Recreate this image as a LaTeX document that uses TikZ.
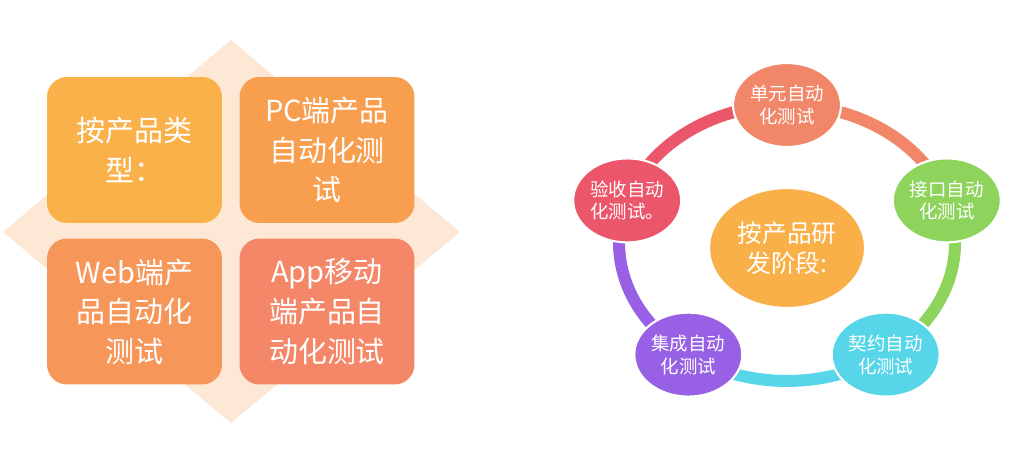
\documentclass[tikz,border=0pt]{standalone}
\usepackage{fontspec}
\setmainfont{Noto Sans CJK SC}
\usetikzlibrary{shapes.geometric,backgrounds}
\definecolor{fond}{RGB}{253,231,213}
\definecolor{caseA}{RGB}{250,177,74}
\definecolor{caseB}{RGB}{248,159,79}
\definecolor{caseC}{RGB}{247,150,89}
\definecolor{caseD}{RGB}{244,135,103}
\definecolor{rouge}{RGB}{236,86,106}
\definecolor{saumon}{RGB}{241,134,104}
\definecolor{vert}{RGB}{142,212,92}
\definecolor{cyan}{RGB}{86,214,232}
\definecolor{violet}{RGB}{152,96,228}
\definecolor{centre}{RGB}{250,176,72}
\begin{document}
\begin{tikzpicture}[x=0.02cm,y=0.02cm]
		% définition des styles
		\tikzstyle{case}=[rectangle,rounded corners=0.4cm,minimum width=3.5cm,minimum height=2.92cm,text=white,align=center,font=\fontsize{16.5}{22.5}\selectfont]
		\tikzstyle{etape}=[ellipse,draw=white,line width=1.2pt,minimum width=2.16cm,minimum height=1.68cm,inner sep=0pt,text=white,align=center,font=\fontsize{10.5}{13}\selectfont]
		\tikzstyle{anneau}=[line width=0.24cm]
		\useasboundingbox (0,0) rectangle (1020,451);
		% le losange de fond
		\fill[fond] (231,411) -- (460,219) -- (231,28) -- (3,219) -- cycle;
		% les quatre cases
		\node[case,fill=caseA] (type) at (134.5,301) {按产品类\\型：};
		\node[case,fill=caseB] (pc) at (327,301) {PC端产品\\自动化测\\试};
		\node[case,fill=caseC] (web) at (134.5,139.5) {Web端产\\品自动化\\测试};
		\node[case,fill=caseD] (app) at (327,139.5) {App移动\\端产品自\\动化测试};
		% les étapes
		\node[etape,fill=centre,minimum width=3.12cm,minimum height=2.4cm,font=\fontsize{14}{17}\selectfont] (phase) at (787,203) {按产品研\\发阶段:};
		\node[etape,fill=saumon] (unite) at (787,346) {单元自动\\化测试};
		\node[etape,fill=vert] (api) at (946.8,250.6) {接口自动\\化测试};
		\node[etape,fill=cyan] (contrat) at (885.7,96.4) {契约自动\\化测试};
		\node[etape,fill=violet] (integ) at (688.3,96.4) {集成自动\\化测试};
		\node[etape,fill=rouge] (accept) at (627.2,250.6) {验收自动\\化测试。};
		% l'anneau
		\begin{pgfonlayer}{background}
		\draw[anneau,saumon] (unite.center) arc[start angle=90,end angle=18,x radius=3.36cm,y radius=2.76cm];
		\draw[anneau,vert] (api.center) arc[start angle=18,end angle=-54,x radius=3.36cm,y radius=2.76cm];
		\draw[anneau,cyan] (contrat.center) arc[start angle=-54,end angle=-126,x radius=3.36cm,y radius=2.76cm];
		\draw[anneau,violet] (integ.center) arc[start angle=-126,end angle=-198,x radius=3.36cm,y radius=2.76cm];
		\draw[anneau,rouge] (accept.center) arc[start angle=162,end angle=90,x radius=3.36cm,y radius=2.76cm];
		\end{pgfonlayer}
	\end{tikzpicture}
\end{document}
